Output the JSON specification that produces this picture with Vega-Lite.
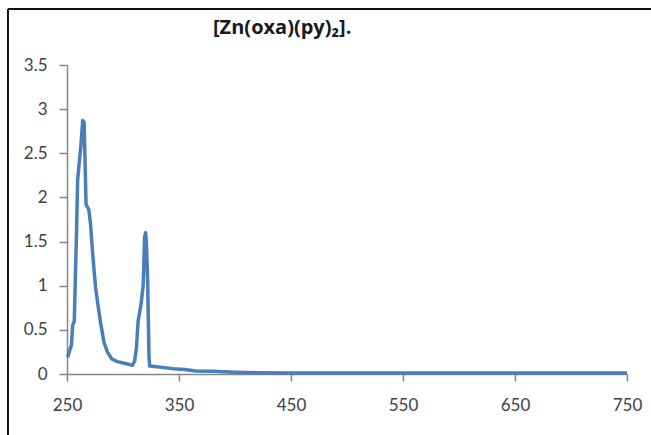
{
  "$schema": "https://vega.github.io/schema/vega-lite/v6.json",
  "width": 560,
  "height": 309,
  "autosize": "none",
  "padding": {"left": 67, "top": 65, "right": 24, "bottom": 61},
  "background": "white",
  "config": {"view": {"stroke": null}, "font": "Lato"},
  "title": {
    "text": "[Zn(oxa)(py)₂].",
    "font": "Open Sans",
    "fontSize": 20,
    "fontWeight": "bold",
    "color": "#1a1a1a",
    "anchor": "start",
    "frame": "group",
    "baseline": "bottom",
    "dx": 146,
    "offset": 0,
    "dy": 50
  },
  "datasets": {
    "spectrum": [
      {"wl": 250.5, "abs": 0.19}, {"wl": 252, "abs": 0.25}, {"wl": 254, "abs": 0.33},
      {"wl": 255, "abs": 0.55}, {"wl": 256.5, "abs": 0.6}, {"wl": 257.5, "abs": 1.1},
      {"wl": 258.5, "abs": 1.6}, {"wl": 259.5, "abs": 2.2}, {"wl": 261, "abs": 2.4},
      {"wl": 262.5, "abs": 2.6}, {"wl": 264, "abs": 2.87}, {"wl": 265.3, "abs": 2.85},
      {"wl": 266.5, "abs": 2.2}, {"wl": 267, "abs": 1.92}, {"wl": 269.5, "abs": 1.86},
      {"wl": 271, "abs": 1.7}, {"wl": 273, "abs": 1.35}, {"wl": 275.5, "abs": 0.98},
      {"wl": 278, "abs": 0.75}, {"wl": 280, "abs": 0.58}, {"wl": 283, "abs": 0.36},
      {"wl": 286, "abs": 0.25}, {"wl": 290, "abs": 0.17}, {"wl": 295, "abs": 0.14},
      {"wl": 300, "abs": 0.125}, {"wl": 305, "abs": 0.11}, {"wl": 308.5, "abs": 0.1},
      {"wl": 310.5, "abs": 0.15}, {"wl": 312, "abs": 0.3}, {"wl": 313.5, "abs": 0.6},
      {"wl": 316, "abs": 0.78}, {"wl": 318, "abs": 1.0}, {"wl": 319.3, "abs": 1.55},
      {"wl": 320.2, "abs": 1.6}, {"wl": 321, "abs": 1.45}, {"wl": 322, "abs": 1.05},
      {"wl": 323.2, "abs": 0.2}, {"wl": 323.8, "abs": 0.09}, {"wl": 328, "abs": 0.085},
      {"wl": 335, "abs": 0.075}, {"wl": 345, "abs": 0.06}, {"wl": 355, "abs": 0.05},
      {"wl": 365, "abs": 0.035}, {"wl": 380, "abs": 0.03}, {"wl": 400, "abs": 0.02},
      {"wl": 420, "abs": 0.015}, {"wl": 450, "abs": 0.01}, {"wl": 750, "abs": 0.01}
    ],
    "frame": [
      {"x1": 197.3, "x2": 197.3, "y1": 4.134, "y2": -0.7},
      {"x1": 197.3, "x2": 772, "y1": 4.134, "y2": 4.134}
    ]
  },
  "layer": [
    {
      "data": {"name": "spectrum"},
      "mark": {"type": "line", "color": "#4a7ebb", "strokeWidth": 3.5, "strokeJoin": "round", "interpolate": "linear"},
      "encoding": {
        "x": {
          "field": "wl", "type": "quantitative",
          "scale": {"domain": [250, 750], "nice": false, "zero": false},
          "axis": {
            "title": null, "values": [250, 350, 450, 550, 650, 750], "grid": false,
            "domainColor": "#868686", "domainWidth": 1.5, "tickColor": "#868686", "tickWidth": 1.5,
            "tickSize": 7, "labelPadding": 16, "labelFontSize": 17, "labelColor": "#404040",
            "labelFont": "Lato", "labelFlush": false
          }
        },
        "y": {
          "field": "abs", "type": "quantitative",
          "scale": {"domain": [0, 3.5], "nice": false},
          "axis": {
            "title": null, "values": [0, 0.5, 1, 1.5, 2, 2.5, 3, 3.5], "grid": false,
            "labelExpr": "datum.value",
            "domainColor": "#868686", "domainWidth": 1.5, "tickColor": "#868686", "tickWidth": 1.5,
            "tickSize": 8, "labelPadding": 12, "labelFontSize": 17, "labelColor": "#404040",
            "labelFont": "Lato", "labelFlush": false
          }
        }
      }
    },
    {
      "data": {"name": "frame"},
      "mark": {"type": "rule", "color": "#111111", "strokeWidth": 2, "clip": false},
      "encoding": {
        "x": {"field": "x1", "type": "quantitative"},
        "x2": {"field": "x2"},
        "y": {"field": "y1", "type": "quantitative"},
        "y2": {"field": "y2"}
      }
    }
  ]
}
